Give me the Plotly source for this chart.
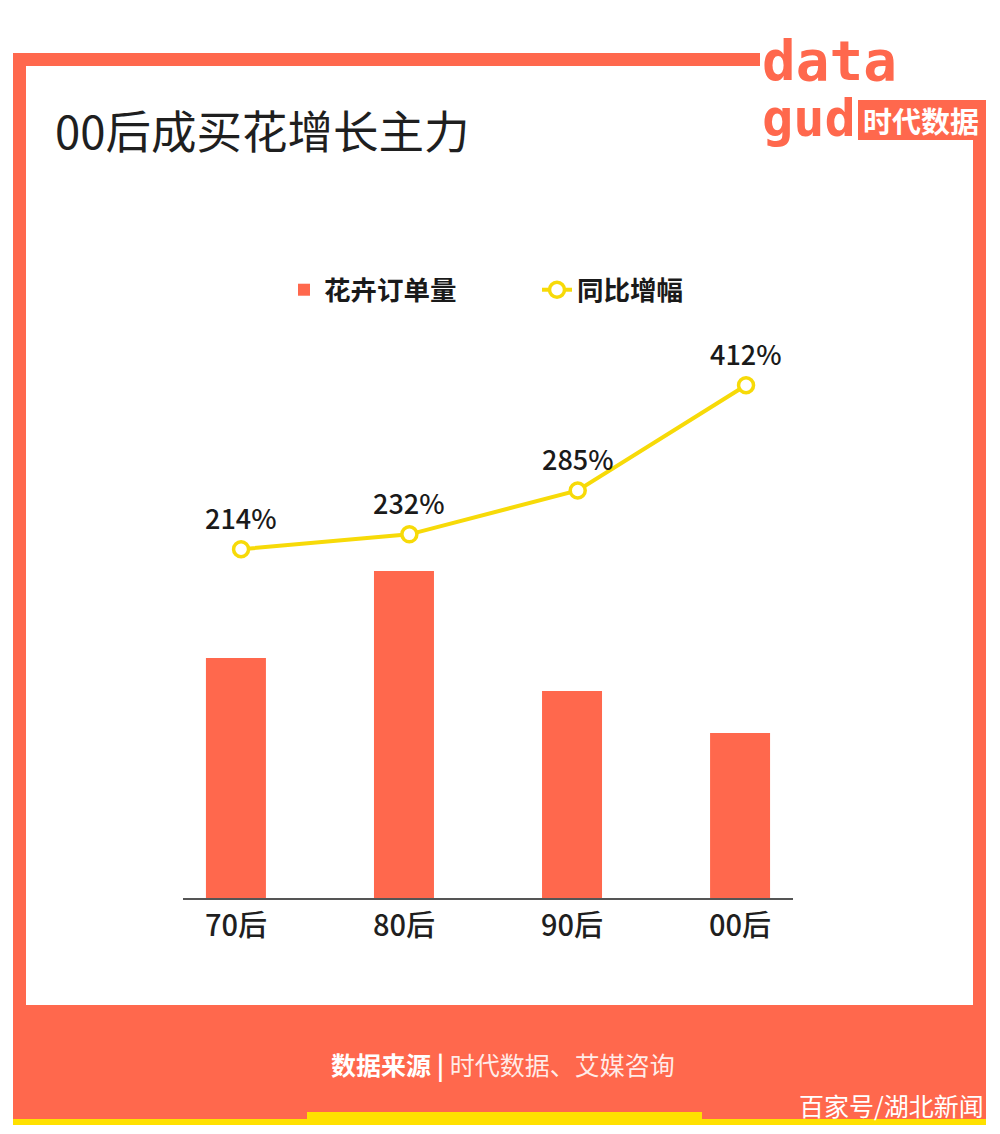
import plotly.graph_objects as go

# ---- data ----
categories = ["70后", "80后", "90后", "00后"]
orders = [240, 327, 207, 165]          # 花卉订单量 (relative index, no axis shown)
yoy = [214, 232, 285, 412]             # 同比增幅 %
bar_name = "花卉订单量"
line_name = "同比增幅"
title_text = "00后成买花增长主力"
source_bold = "数据来源"
source_rest = "时代数据、艾媒咨询"
watermark = "百家号/湖北新闻"

W, H = 1000, 1134
ORANGE = "#FF684D"
YELLOW = "#FFE100"
LINE_Y = "#F7DA08"
FONT = "Noto Sans CJK SC"

def px(x):
    return x / W

def py(y):
    return 1 - y / H

fig = go.Figure()

fig.add_trace(go.Bar(
    x=categories, y=orders, name=bar_name,
    marker=dict(color=ORANGE, line=dict(width=0)),
    width=0.357, xaxis="x", yaxis="y", hoverinfo="skip",
))
fig.add_trace(go.Scatter(
    x=categories, y=yoy, name=line_name, mode="lines+markers",
    line=dict(color=LINE_Y, width=4),
    marker=dict(symbol="circle", size=15, color="white",
                line=dict(color=LINE_Y, width=3.5)),
    xaxis="x2", yaxis="y2", hoverinfo="skip",
))

annotations = []
for c, v in zip(categories, yoy):
    annotations.append(dict(
        x=c, y=v, xref="x2", yref="y2", text=f"{v}%", showarrow=False,
        yshift=32, yanchor="middle",
        font=dict(family=FONT, size=27, color="#1a1a1a", weight=500),
    ))

# title
annotations.append(dict(
    x=px(53), y=py(129), xref="paper", yref="paper", text=title_text,
    showarrow=False, xanchor="left", yanchor="middle",
    font=dict(family=FONT, size=45.5, color="#1f1f1f", weight=400),
))
# footer
annotations.append(dict(
    x=px(503), y=py(1064), xref="paper", yref="paper",
    text=f"<b>{source_bold}</b> <b>|</b> <span style='color:rgba(255,255,255,0.88)'>{source_rest}</span>",
    showarrow=False, xanchor="center", yanchor="middle",
    font=dict(family=FONT, size=25, color="white"),
))
annotations.append(dict(
    x=px(986), y=py(1105), xref="paper", yref="paper", text=watermark,
    showarrow=False, xanchor="right", yanchor="middle",
    font=dict(family=FONT, size=25, color="white"),
))
# logo text
annotations.append(dict(
    x=px(760), y=py(60), xref="paper", yref="paper", text="<b>data</b>",
    showarrow=False, xanchor="left", yanchor="middle",
    font=dict(family="DejaVu Sans Mono", size=56, color=ORANGE),
))
annotations.append(dict(
    x=px(760), y=py(118), xref="paper", yref="paper", text="<b>gud</b>",
    showarrow=False, xanchor="left", yanchor="middle",
    font=dict(family="DejaVu Sans Mono", size=52, color=ORANGE),
))
annotations.append(dict(
    x=px(921), y=py(120), xref="paper", yref="paper", text="时代数据",
    showarrow=False, xanchor="center", yanchor="middle",
    font=dict(family=FONT, size=29, color="white", weight=700),
))

def rect(x0, y0, x1, y1, color):
    return dict(type="rect", xref="paper", yref="paper",
                x0=px(x0), x1=px(x1), y0=py(y1), y1=py(y0),
                fillcolor=color, line=dict(width=0), layer="below")

shapes = [
    rect(13, 53, 760, 66, ORANGE),      # top border
    rect(13, 53, 26, 1119, ORANGE),     # left border
    rect(973, 100, 986, 1119, ORANGE),  # right border
    rect(858, 100, 986, 140, ORANGE),   # logo box
    rect(13, 1005, 986, 1119, ORANGE),  # footer band
    rect(13, 1119, 986, 1125, YELLOW),  # yellow line
    rect(307, 1112, 702, 1125, YELLOW), # yellow bar
]

fig.update_layout(
    width=W, height=H,
    margin=dict(l=0, r=0, t=0, b=0),
    paper_bgcolor="white", plot_bgcolor="rgba(0,0,0,0)",
    showlegend=True,
    legend=dict(orientation="h", x=px(284), y=py(290), xanchor="left",
                yanchor="middle", font=dict(family=FONT, size=26.5, color="#1a1a1a", weight=700),
                entrywidth=208, entrywidthmode="pixels",
                traceorder="normal", bgcolor="rgba(0,0,0,0)"),
    xaxis=dict(domain=[px(183), px(793)], range=[-0.315, 3.315],
               showline=True, linecolor="#555555", linewidth=2,
               showgrid=False, zeroline=False, ticks="outside", ticklen=1,
               tickcolor="rgba(0,0,0,0)",
               tickfont=dict(family=FONT, size=29, color="#1f1f1f", weight=500),
               fixedrange=True),
    xaxis2=dict(domain=[px(183), px(793)], range=[-0.345, 3.279], overlaying="x",
                visible=False, fixedrange=True),
    yaxis=dict(domain=[py(898), py(300)], range=[0, 598], visible=False,
               fixedrange=True),
    yaxis2=dict(domain=[py(898), py(300)], range=[-207.2, 515.0], overlaying="y",
                visible=False, fixedrange=True),
    annotations=annotations,
    shapes=shapes,
    font=dict(family=FONT),
)

fig.write_html("out.html", config={"displayModeBar": False})
